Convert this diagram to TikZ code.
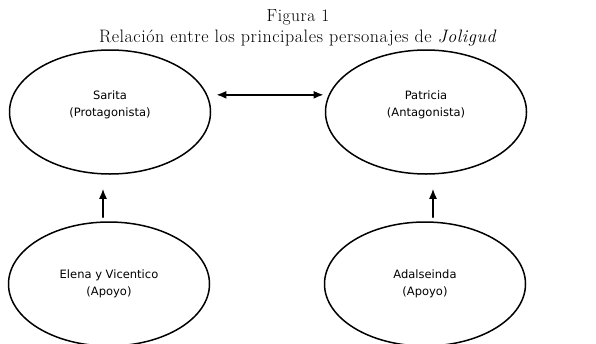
\documentclass[tikz,border=0pt]{standalone}
\usepackage{fontspec}
\newfontfamily\verdanalike{DejaVu Sans}
\newfontfamily\titlefont[LetterSpace=3]{Latin Modern Roman}
\usetikzlibrary{arrows.meta,shapes.geometric,positioning}

\begin{document}
\begin{tikzpicture}[x=1pt, y=-1pt, >={Latex[length=10pt,width=8pt]}, line cap=round, line join=round,
	persona/.style={draw, ellipse, line width=1.5pt, minimum width=201pt, minimum height=124pt,
		align=center, font=\verdanalike\fontsize{11.5}{17}\selectfont},
	enlace/.style={line width=1.6pt}]
	\useasboundingbox (0,0) rectangle (596,343);

	% --- 1. TITLE ---
	\node (fig) at (298,17) {\titlefont\fontsize{17.5}{18}\selectfont Figura 1};
	\node (rel) at (298,38) {\titlefont\fontsize{18}{18}\selectfont Relación entre los principales personajes de \textit{Joligud}};

	% --- 2. CHARACTERS ---
	\node[persona] (sarita) at (110,112) {Sarita\\(Protagonista)\\\mbox{}};
	\node[persona] (patricia) at (426,112) {Patricia\\(Antagonista)\\\mbox{}};
	\node[persona] (elena) at (109,284) {Elena y Vicentico\\(Apoyo)};
	\node[persona] (adalseinda) at (425,284) {Adalseinda\\(Apoyo)};

	% --- 3. RELATIONS ---
	\draw[enlace, <->, shorten <=9pt, shorten >=5pt] (sarita.10) -- (patricia.170);
	\draw[enlace, ->, shorten <=4pt, shorten >=14pt] ([xshift=-6pt]elena.north) -- ([xshift=-6pt]elena.north |- sarita.south);
	\draw[enlace, ->, shorten <=4pt, shorten >=14pt] ([xshift=8pt]adalseinda.north) -- ([xshift=8pt]adalseinda.north |- patricia.south);
\end{tikzpicture}
\end{document}
